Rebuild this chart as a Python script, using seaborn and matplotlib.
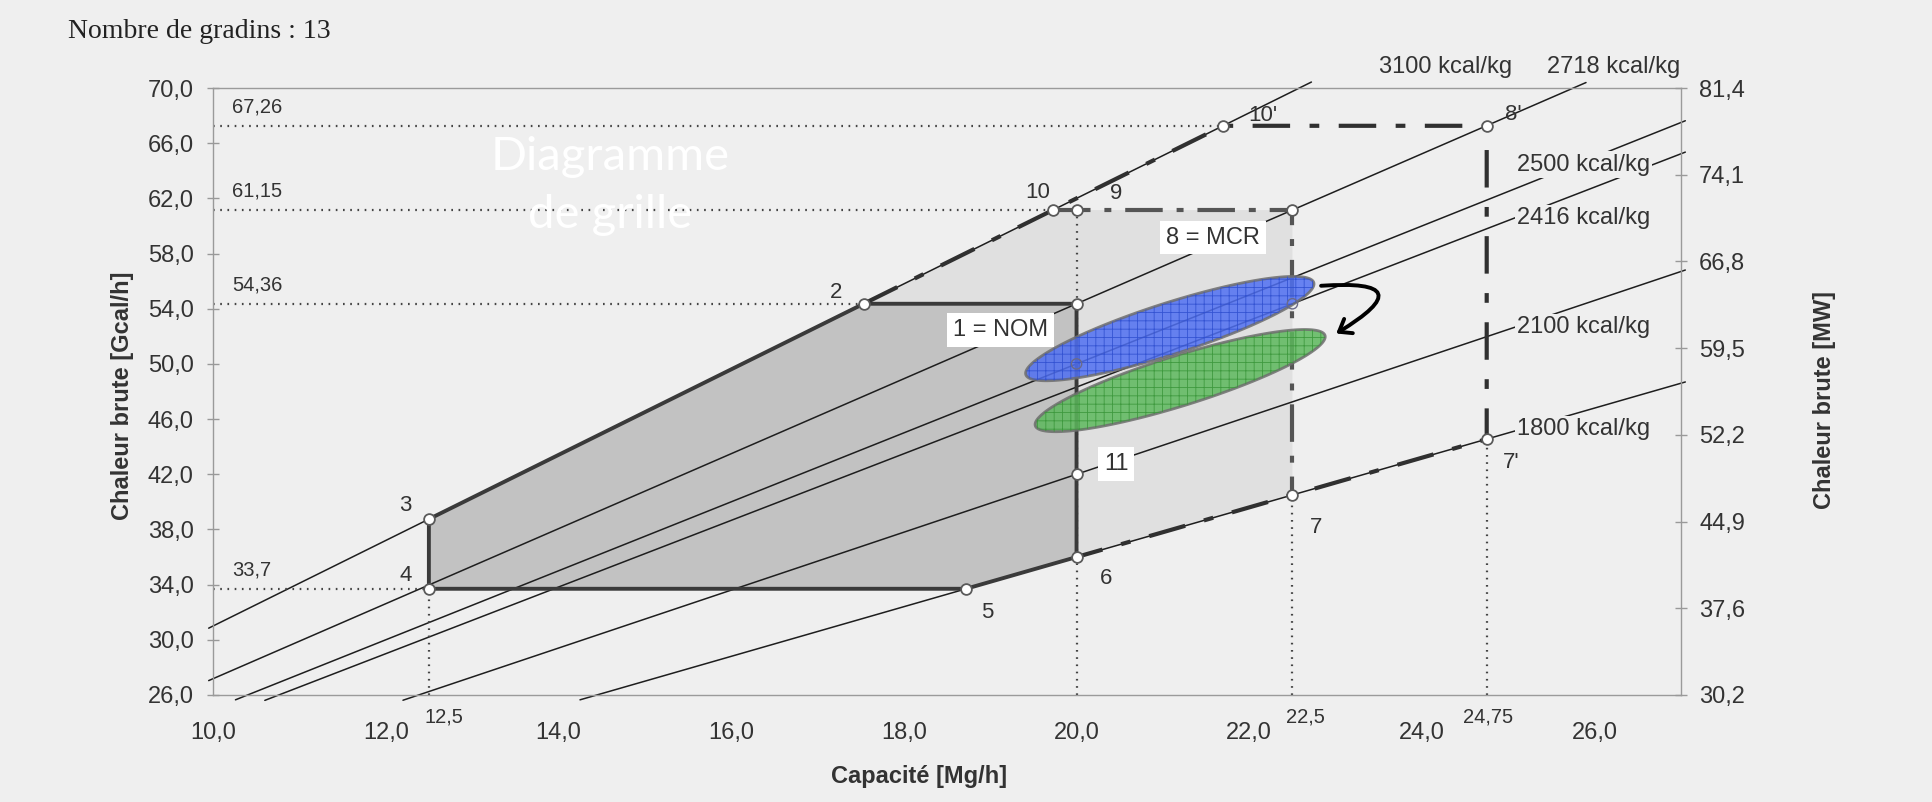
import numpy as np
import pandas as pd
import matplotlib
matplotlib.use("Agg")
import matplotlib.pyplot as plt
import seaborn as sns
from matplotlib.patches import Polygon, FancyArrowPatch

# Droites de PCI (chaleur = capacité x PCI)
lhv = [3100, 2718, 2500, 2416, 2100, 1800]
lhv_x0 = [9.95, 9.95, 10.26, 10.6, 12.2, 14.25]
lhv_x1 = [22.72, 25.9, 27.05, 27.05, 27.05, 27.05]
lhv_lab = ["3100 kcal/kg", "2718 kcal/kg", "2500 kcal/kg", "2416 kcal/kg", "2100 kcal/kg", "1800 kcal/kg"]
lhv_lab_x = [23.5, 25.45, 25.1, 25.1, 25.1, 25.1]
lhv_lab_y = [71.55, 71.55, 64.45, 60.6, 52.65, 45.3]

# Points du diagramme
pt_name = ["1", "2", "3", "4", "5", "6", "7", "7'", "8", "8'", "9", "10", "10'", "11"]
pt_x = [20.0, 17.535, 12.5, 12.5, 18.72, 20.0, 22.5, 24.75, 22.5, 24.75, 20.0, 19.726, 21.70, 20.0]
pt_y = [54.36, 54.36, 38.75, 33.7, 33.7, 36.0, 40.5, 44.55, 61.15, 67.26, 61.15, 61.15, 67.26, 42.0]
extra_x = [20.0, 22.5]
extra_y = [50.0, 54.36]

num_txt = ["2", "3", "4", "5", "6", "7", "7'", "8'", "9", "10", "10'"]
num_x = [17.22, 12.23, 12.23, 18.97, 20.34, 22.77, 25.03, 25.06, 20.46, 19.55, 22.16]
num_y = [55.2, 39.75, 34.65, 31.97, 34.46, 38.13, 42.87, 68.1, 62.35, 62.4, 68.0]

box_txt = ["1 = NOM", "8 = MCR", "11"]
box_x = [19.12, 21.58, 20.46]
box_y = [52.45, 59.16, 42.75]

# Repères pointillés
hdot_y = [67.26, 61.15, 54.36, 33.7]
hdot_x1 = [21.70, 19.726, 17.535, 12.5]
hdot_lab = ["67,26", "61,15", "54,36", "33,7"]
vdot_x = [12.5, 20.0, 22.5, 24.75]
vdot_y1 = [33.7, 61.15, 40.5, 44.55]
vdot_lab = ["12,5", "22,5", "24,75"]
vdot_lab_x = [12.68, 22.65, 24.77]

# Zones
dark_zone = ["4", "3", "2", "1", "6", "5"]
light_zone = ["2", "10", "9", "8", "7", "6", "1"]
solid_path = ["4", "3", "2", "1", "6", "5", "4"]
dashdot_dark = ["2", "10", "10'", "8'", "7'", "7", "6"]
dashdot_grey = ["10", "9", "8", "7"]

# Ellipses (centre, demi-axe, demi-hauteur verticale)
ell_cx = [21.08, 21.2]
ell_cy = [52.56, 48.79]
ell_ux = [1.67, 1.68]
ell_uy = [3.24, 3.18]
ell_h = [1.95, 1.9]
ell_fill = ["#4f6ff2", "#5cb85c"]
ell_hatch = ["#2f4fd0", "#3a963a"]

xticks = [10, 12, 14, 16, 18, 20, 22, 24, 26]
yticks = [26, 30, 34, 38, 42, 46, 50, 54, 58, 62, 66, 70]
mw_labels = ["30,2", "37,6", "44,9", "52,2", "59,5", "66,8", "74,1", "81,4"]

paper = "#efefef"
ink = "#333333"

sns.set_theme(style="white")
plt.rcParams["font.family"] = ["Liberation Sans", "DejaVu Sans"]
plt.rcParams["lines.scale_dashes"] = False
plt.rcParams["hatch.linewidth"] = 0.6

fig = plt.figure(figsize=(19.32, 8.02), dpi=100, facecolor=paper)
ax = fig.add_axes([213 / 1932, 1 - 695 / 802, 1468 / 1932, 607 / 802])
ax.set_facecolor(paper)
ax.set_xlim(10, 27)
ax.set_ylim(26, 70)

P = dict(zip(pt_name, zip(pt_x, pt_y)))

def xy(names):
    return [P[n][0] for n in names], [P[n][1] for n in names]

# zones grisées
xs, ys = xy(dark_zone)
ax.fill(xs, ys, color="#c2c2c2", lw=0, zorder=1)
xs, ys = xy(light_zone)
ax.fill(xs, ys, color="#e0e0e0", lw=0, zorder=1)

# droites de PCI
rows = []
for k, a, b in zip(lhv, lhv_x0, lhv_x1):
    rows.append({"cap": a, "heat": a * k / 1000, "lhv": k})
    rows.append({"cap": b, "heat": b * k / 1000, "lhv": k})
df = pd.DataFrame(rows)
sns.lineplot(data=df, x="cap", y="heat", units="lhv", estimator=None, color="#1e1e1e",
             lw=1.1, ax=ax, clip_on=False, zorder=2)

# pointillés de repère
for y, x1 in zip(hdot_y, hdot_x1):
    ax.plot([10, x1], [y, y], ls=(0, (1.2, 4)), color="#444", lw=1.6, zorder=2)
for x, y1 in zip(vdot_x, vdot_y1):
    ax.plot([x, x], [26, y1], ls=(0, (1.2, 4)), color="#444", lw=1.6, zorder=2)

# contours
xs, ys = xy(solid_path)
ax.plot(xs, ys, color="#3a3a3a", lw=2.8, zorder=3, solid_joinstyle="miter")
xs, ys = xy(dashdot_dark)
ax.plot(xs, ys, color="#303030", lw=3.0, ls=(0, (27, 14, 7, 14)), zorder=3)
xs, ys = xy(dashdot_grey)
ax.plot(xs, ys, color="#555555", lw=3.0, ls=(0, (27, 10, 5, 10)), zorder=3)

# ellipses
t = np.linspace(0, 2 * np.pi, 240)
for cx, cy, ux, uy, h, fc, hc in zip(ell_cx, ell_cy, ell_ux, ell_uy, ell_h, ell_fill, ell_hatch):
    ex = cx + ux * np.cos(t)
    ey = cy + uy * np.cos(t) + h * np.sin(t)
    pts = np.column_stack([ex, ey])
    ax.add_patch(Polygon(pts, closed=True, facecolor=fc, edgecolor="#6e6e6e", lw=2.0,
                         alpha=0.85, zorder=4))
    ax.add_patch(Polygon(pts, closed=True, facecolor="none", edgecolor=hc, lw=0,
                         hatch="++", alpha=0.9, zorder=4))

# points
sns.scatterplot(x=pt_x, y=pt_y, marker="o", s=60, color="white", edgecolor="#5a5a5a",
                linewidth=1.3, ax=ax, zorder=6, clip_on=False)
sns.scatterplot(x=extra_x, y=extra_y, marker="o", s=55, color="none", edgecolor="#6a6a8a",
                linewidth=1.0, ax=ax, zorder=5)

# flèche
arrow = FancyArrowPatch((22.8, 55.65), (22.98, 52.1), connectionstyle="arc3,rad=-2.1",
                        arrowstyle="->,head_length=8,head_width=6", color="black", lw=2.8, zorder=7)
ax.add_patch(arrow)

# textes
for s, x, y in zip(num_txt, num_x, num_y):
    ax.text(x, y, s, fontsize=16, color=ink, ha="center", va="center", zorder=7)
for s, x, y in zip(box_txt, box_x, box_y):
    ax.text(x, y, s, fontsize=17, color=ink, ha="center", va="center", zorder=7,
            bbox=dict(facecolor="white", edgecolor="none", pad=4))
for s, x, y in zip(lhv_lab, lhv_lab_x, lhv_lab_y):
    ax.text(x, y, s, fontsize=17, color=ink, ha="left", va="center", zorder=7, clip_on=False,
            bbox=dict(facecolor=paper, edgecolor="none", pad=1.5))
for s, y in zip(hdot_lab, hdot_y):
    ax.text(10.22, y + 1.35, s, fontsize=14.5, color=ink, ha="left", va="center", zorder=7)
for s, x in zip(vdot_lab, vdot_lab_x):
    ax.text(x, 24.4, s, fontsize=14.5, color=ink, ha="center", va="center", clip_on=False)

ax.text(14.6, 64.05, "Diagramme", fontsize=34, color="white", family="Lato",
        ha="center", va="baseline", zorder=8)
ax.text(14.6, 59.85, "de grille", fontsize=34, color="white", family="Lato",
        ha="center", va="baseline", zorder=8)

# axes
ax.set_xticks(xticks)
ax.set_xticklabels([f"{v:.1f}".replace(".", ",") for v in xticks])
ax.set_yticks(yticks)
ax.set_yticklabels([f"{v:.1f}".replace(".", ",") for v in yticks])
ax.tick_params(axis="x", direction="inout", length=9, width=1, color="#999", pad=15,
               labelsize=17, labelcolor=ink)
ax.tick_params(axis="y", direction="inout", length=9, width=1, color="#999", pad=9.5,
               labelsize=17, labelcolor=ink)
for sp in ax.spines.values():
    sp.set_color("#9a9a9a")
    sp.set_linewidth(1.0)
ax.set_xlabel("Capacité [Mg/h]", fontsize=17, weight="bold", color=ink)
ax.xaxis.set_label_coords(0.481, -0.115)
ax.set_ylabel("Chaleur brute [Gcal/h]", fontsize=17, weight="bold", color=ink)
ax.yaxis.set_label_coords(-0.0535, 0.493)

ax2 = ax.twinx()
ax2.set_ylim(26, 70)
ax2.set_yticks(np.linspace(26, 70, 8))
ax2.set_yticklabels(mw_labels)
ax2.tick_params(axis="y", direction="inout", length=9, width=1, color="#999", pad=8.5,
                labelsize=17, labelcolor=ink)
for sp in ax2.spines.values():
    sp.set_visible(False)
ax2.set_ylabel("Chaleur brute [MW]", fontsize=17, weight="bold", color=ink)
ax2.yaxis.set_label_coords(1.090, 0.486)

fig.text(68 / 1932, 1 - 31 / 802, "Nombre de gradins : 13", fontsize=20, family="Liberation Serif",
         color="#222", ha="left", va="center")

fig.savefig("out.png", dpi=100, facecolor=paper)
